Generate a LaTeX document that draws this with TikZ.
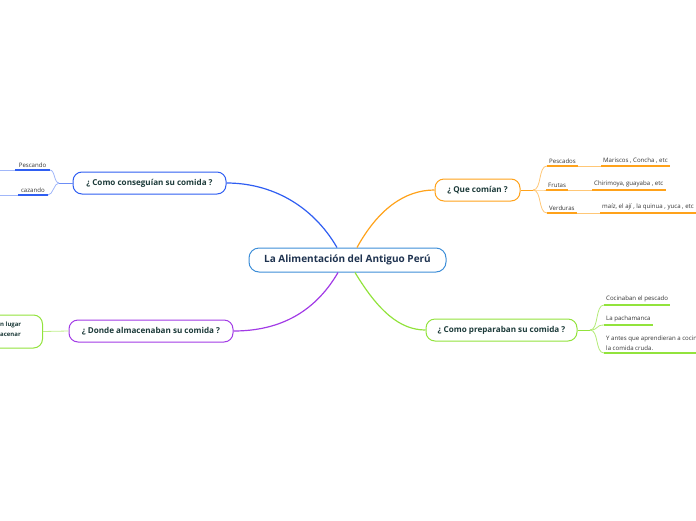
\documentclass[tikz,border=0pt]{standalone}
\usepackage{fontspec}
\setmainfont{Open Sans}
\definecolor{cblue}{HTML}{2F5EF2}
\definecolor{ccenter}{HTML}{3D8ED8}
\definecolor{corange}{HTML}{FFA21A}
\definecolor{cpurple}{HTML}{A23BE6}
\definecolor{clime}{HTML}{92E33C}
\definecolor{ctext}{HTML}{1D3B3A}
\definecolor{cmain}{HTML}{1F3350}
\definecolor{cleaf}{HTML}{333333}
\tikzset{
  mainbox/.style={draw=ccenter, rounded corners=10pt, fill=white, line width=1pt,
    font=\bfseries\fontsize{10}{12}\selectfont, text=cmain, inner sep=0pt,
    minimum height=24pt, minimum width=197pt},
  qbox/.style={draw, rounded corners=9pt, fill=white, line width=1pt,
    font=\bfseries\fontsize{8.1}{9}\selectfont, text=ctext, minimum height=22pt, inner sep=0pt},
  leaf/.style={font=\fontsize{6.1}{9.5}\selectfont, text=cleaf, inner xsep=2pt, inner ysep=2.6pt},
  ul/.style={line width=1.8pt},
  conn/.style={line width=1.2pt},
  fork/.style={line width=0.8pt},
}
\begin{document}
\begin{tikzpicture}[x=1pt,y=-1pt]
\useasboundingbox (0,0) rectangle (696,520);
\clip (0,0) rectangle (696,520);

% central
\node[mainbox] (c) at (347.5,260) {La Alimentación del Antiguo Perú};

% branch boxes
\node[qbox, draw=cblue, minimum width=153pt] (q1) at (149.5,183) {¿ Como conseguían su comida ?};
\node[qbox, draw=cpurple, minimum width=164pt] (q2) at (151,331) {¿ Donde almacenaban su comida ?};
\node[qbox, draw=corange, minimum width=85pt] (q3) at (477.5,190) {¿ Que comían ?};
\node[qbox, draw=clime, minimum width=151pt] (q4) at (501.5,330) {¿ Como preparaban su comida ?};

% main connectors
\draw[conn, cblue] ([xshift=-10.5pt]c.north) .. controls +(-25,-43) and +(44,0) .. (q1.east);
\draw[conn, corange] ([xshift=9.5pt]c.north) .. controls +(21,-38) and +(-30,0) .. (q3.west);
\draw[conn, cpurple] ([xshift=-9.5pt]c.south) .. controls +(-25,43) and +(42,0) .. (q2.east);
\draw[conn, clime] ([xshift=7.5pt]c.south) .. controls +(23,38) and +(-26,0) .. (q4.west);

% ---- blue sub-branches
\coordinate (fb) at (59,183);
\node[leaf, anchor=south east, inner xsep=3.5pt] (b1) at (50,170) {Pescando};
\node[leaf, anchor=south east, inner xsep=3pt] (b2) at (48,195) {cazando};
\coordinate (b1x) at (-3,170);
\coordinate (b2x) at (-3,195);
\draw[fork, cblue!70] (q1.west) -- (fb);
\draw[fork, cblue!45] (fb) .. controls +(-5,0) and +(5,0) .. (b1.south east);
\draw[fork, cblue!45] (fb) .. controls +(-5,0) and +(5,0) .. (b2.south east);
\draw[ul, cblue] (b1.south west) -- (b1.south east);
\draw[ul, cblue] (b2.south west) -- (b2.south east);
\draw[fork, cblue!45] (b1.south west) -- (b1x);
\draw[fork, cblue!45] (b2.south west) -- (b2x);

% ---- purple sub-branch (green box, clipped)
\node[qbox, draw=clime, minimum width=83pt, minimum height=33pt, anchor=east] (g) at (43,331.5) {};
\node[font=\bfseries\fontsize{6}{10}\selectfont, text=ctext, anchor=west, align=left, inner sep=0pt] (gt) at (0,329.5) {n lugar\\acenar};
\draw[fork, clime!60] (q2.west) -- (g.east);

% ---- orange sub-branches
\coordinate (fo) at (533,190);
\draw[fork, corange] (q3.east) -- (fo);
\node[leaf, anchor=south west] (o1) at (547,166) {Pescados};
\node[leaf, anchor=south west] (o2) at (546,190) {Frutas};
\node[leaf, anchor=south west] (o3) at (547,213) {Verduras};
\node[leaf, anchor=south west] (o1b) at (601,166) {Mariscos , Concha , etc};
\node[leaf, anchor=south west] (o2b) at (592,190) {Chirimoya, guayaba , etc};
\node[leaf, anchor=south west] (o3b) at (600,213) {maíz, el ají , la quinua , yuca , etc};
\foreach \n in {o1,o2,o3}{
  \draw[fork, corange!60] (fo) .. controls +(9,0) and +(-9,0) .. (\n.south west);
  \draw[ul, corange] (\n.south west) -- (\n.south east);
  \draw[ul, corange] (\n b.south west) -- (\n b.south east);
  \draw[fork, corange!60] (\n.south east) -- (\n b.south west);
}

% ---- lime sub-branches
\coordinate (fl) at (590,330);
\draw[fork, clime] (q4.east) -- (fl);
\node[leaf, anchor=south west] (p1) at (604,305) {Cocinaban el pescado};
\node[leaf, anchor=south west] (p2) at (604,325) {La pachamanca};
\node[leaf, anchor=south west, align=left, minimum width=92pt] (p3) at (604,353) {Y antes que aprendieran a cocin\\la comida cruda.};
\foreach \n in {p1,p2,p3}{
  \draw[fork, clime!70] (fl) .. controls +(9,0) and +(-9,0) .. (\n.south west);
  \draw[ul, clime] (\n.south west) -- (\n.south east);
}
\end{tikzpicture}
\end{document}
